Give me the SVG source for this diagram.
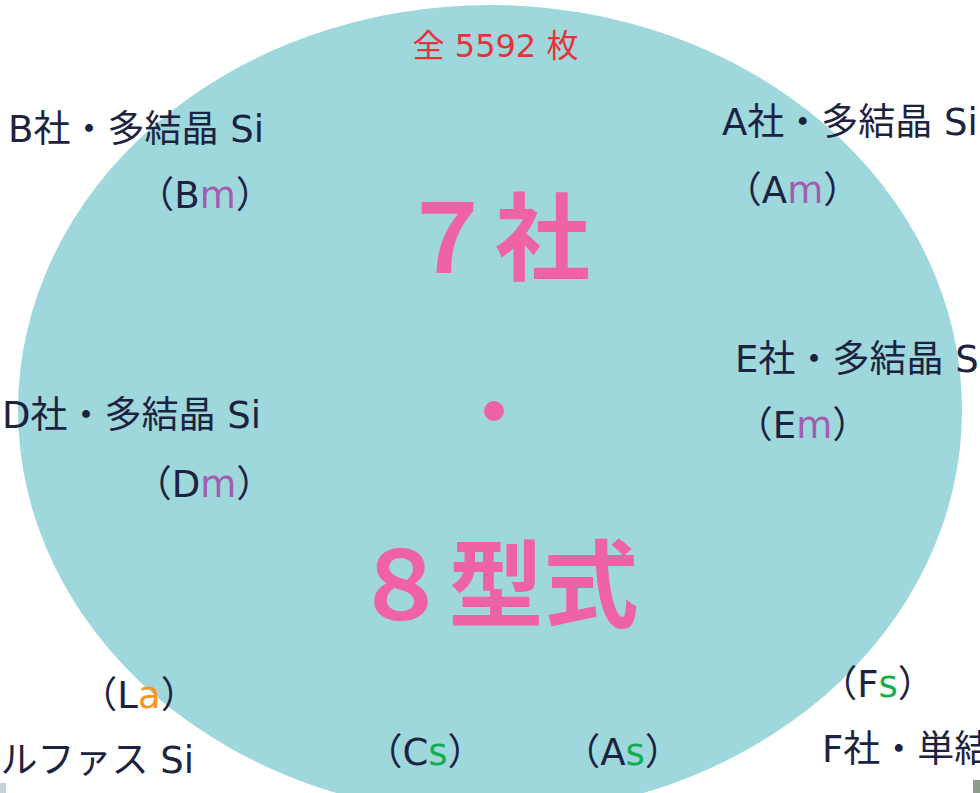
<svg xmlns="http://www.w3.org/2000/svg" width="980" height="793" viewBox="0 0 980 793">
<style>
.t{font-family:"DejaVu Sans","Noto Sans CJK JP",sans-serif;font-size:37px;fill:#1c2340}
.m{fill:#a25db0}
.s{fill:#13ad4f}
.a{fill:#f7941d}
.big{font-family:"Noto Sans CJK JP","Noto Sans",sans-serif;font-size:95px;font-weight:bold;fill:#f062a6}
.red{font-family:"DejaVu Sans","Noto Sans CJK JP",sans-serif;font-size:32px;fill:#e8313a}
</style>
<rect width="980" height="793" fill="#ffffff"/>
<g id="circle">
<ellipse cx="490" cy="410" rx="472" ry="405" fill="#9ed7dc"/>
<circle cx="494" cy="411" r="10" fill="#f062a6"/>
</g>
<g id="total"><text class="red" x="495.5" y="57" text-anchor="middle">全 5592 枚</text></g>
<g id="center-text">
<text class="big" x="495" y="273" text-anchor="middle">７社</text>
<text class="big" x="496" y="620" text-anchor="middle">８型式</text>
</g>
<g id="node-B">
<text class="t" x="8" y="142">B社・多結晶 Si</text>
<text class="t" x="205" y="208" text-anchor="middle">（B<tspan class="m">m</tspan>）</text>
</g>
<g id="node-A">
<text class="t" x="722" y="135">A社・多結晶 Si</text>
<text class="t" x="792.5" y="203" text-anchor="middle">（A<tspan class="m">m</tspan>）</text>
</g>
<g id="node-E">
<text class="t" x="735" y="372">E社・多結晶 Si</text>
<text class="t" x="802.5" y="438" text-anchor="middle">（E<tspan class="m">m</tspan>）</text>
</g>
<g id="node-D">
<text class="t" x="2" y="428">D社・多結晶 Si</text>
<text class="t" x="204" y="497" text-anchor="middle">（D<tspan class="m">m</tspan>）</text>
</g>
<g id="node-L">
<text class="t" x="139" y="708" text-anchor="middle">（L<tspan class="a">a</tspan>）</text>
<text class="t" x="194" y="773" text-anchor="end">ルファス Si</text>
</g>
<g id="node-C">
<text class="t" x="425" y="765" text-anchor="middle">（C<tspan class="s">s</tspan>）</text>
</g>
<g id="node-As">
<text class="t" x="622.5" y="765" text-anchor="middle">（A<tspan class="s">s</tspan>）</text>
</g>
<g id="node-F">
<text class="t" x="877.5" y="697" text-anchor="middle">（F<tspan class="s">s</tspan>）</text>
<text class="t" x="822" y="762">F社・単結晶 Si</text>
</g>
<g id="connectors"></g>
<g id="fragments">
<rect x="0" y="783" width="6" height="10" fill="#c8d2db"/>
<rect x="973" y="780" width="7" height="13" fill="#8e9c8c"/>
</g>
</svg>
